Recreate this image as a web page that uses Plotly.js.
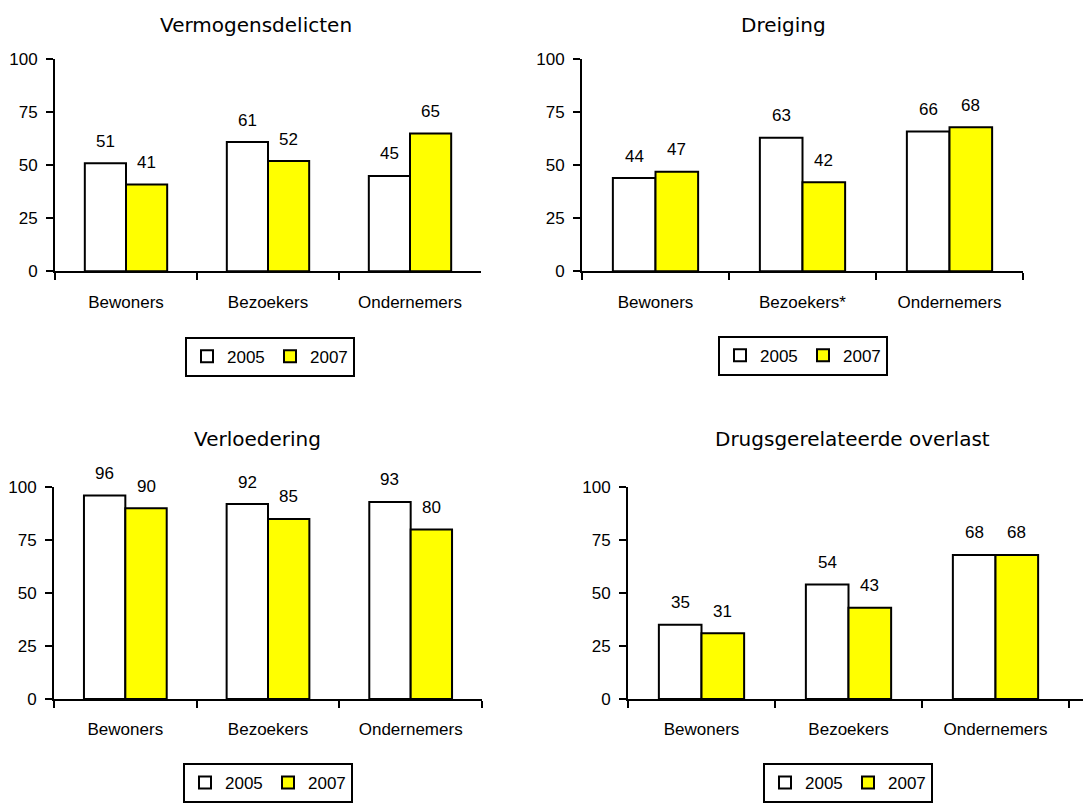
<!DOCTYPE html>
<html>
<head>
<meta charset="utf-8">
<script src="https://cdn.plot.ly/plotly-3.0.1.min.js"></script>
<style>html,body{margin:0;padding:0;background:#fff;}#chart{width:1083px;height:803px;}</style>
</head>
<body>
<div id="chart"></div>
<script>
// ---- data ----
const years = ["2005", "2007"];
const categoriesDefault = ["Bewoners", "Bezoekers", "Ondernemers"];
const categoriesDreiging = ["Bewoners", "Bezoekers*", "Ondernemers"];

const titleVermogen = "Vermogensdelicten";
const vermogen2005 = [51, 61, 45];
const vermogen2007 = [41, 52, 65];

const titleDreiging = "Dreiging";
const dreiging2005 = [44, 63, 66];
const dreiging2007 = [47, 42, 68];

const titleVerloedering = "Verloedering";
const verloedering2005 = [96, 92, 93];
const verloedering2007 = [90, 85, 80];

const titleDrugs = "Drugsgerelateerde overlast";
const drugs2005 = [35, 54, 68];
const drugs2007 = [31, 43, 68];

const yTicks = [0, 25, 50, 75, 100];

// ---- styling / layout ----
const W = 1083, H = 803;
const tickFont = {family: "Liberation Sans, Arial, sans-serif", size: 17, color: "#000"};
const titleFont = {family: "DejaVu Sans, Verdana, sans-serif", size: 20, color: "#000"};
const colors = ["#FFFFFF", "#FFFF00"];
const bargap = 0.42;
const barOffset = (1 - bargap) / 4;

const panels = [
  {title: titleVermogen, cats: categoriesDefault, s: [vermogen2005, vermogen2007],
   xd: [55, 481], yd: [60, 274], xr: [-0.5, 2.5], tx: 256, ty: 25, lx: 270, ly: 340},
  {title: titleDreiging, cats: categoriesDreiging, s: [dreiging2005, dreiging2007],
   xd: [582, 1023], yd: [60, 274], xr: [-0.5, 2.5], tx: 783, ty: 25, lx: 803, ly: 339},
  {title: titleVerloedering, cats: categoriesDefault, s: [verloedering2005, verloedering2007],
   xd: [54, 482], yd: [492, 706], xr: [-0.5, 2.5], tx: 257, ty: 443, lx: 268, ly: 771},
  {title: titleDrugs, cats: categoriesDefault, s: [drugs2005, drugs2007],
   xd: [628, 1083], yd: [492, 706], xr: [-0.5, -0.5 + 455 / 147], tx: 852, ty: 443, lx: 848, ly: 771}
];

const traces = [];
const layout = {
  width: W, height: H,
  margin: {l: 0, r: 0, t: 0, b: 0},
  paper_bgcolor: "#fff", plot_bgcolor: "#fff",
  barmode: "group", bargap: bargap, bargroupgap: 0,
  showlegend: true,
  annotations: [],
  hovermode: false
};

panels.forEach((p, i) => {
  const n = i + 1;
  const xa = "x" + (n === 1 ? "" : n);
  const ya = "y" + (n === 1 ? "" : n);
  const lg = "legend" + (n === 1 ? "" : n);
  years.forEach((yr, k) => {
    traces.push({
      type: "bar", name: yr, x: p.cats, y: p.s[k],
      xaxis: xa, yaxis: ya, legend: lg,
      marker: {color: colors[k], line: {color: "#000", width: 2}},
      hoverinfo: "skip", cliponaxis: false
    });
    p.s[k].forEach((v, j) => {
      layout.annotations.push({
        xref: xa, yref: ya, x: j + (k === 0 ? -barOffset : barOffset), y: v,
        text: String(v), showarrow: false, xanchor: "center", yanchor: "middle",
        yshift: 22, font: tickFont
      });
    });
  });
  layout["xaxis" + (n === 1 ? "" : n)] = {
    domain: [p.xd[0] / W, p.xd[1] / W], anchor: ya,
    type: "category", range: p.xr,
    showline: true, linecolor: "#000", linewidth: 2,
    ticks: "outside", tickson: "boundaries", ticklen: 7, tickwidth: 2, tickcolor: "#000",
    showgrid: false, zeroline: false, tickfont: tickFont, ticklabelstandoff: 14,
    fixedrange: true
  };
  layout["yaxis" + (n === 1 ? "" : n)] = {
    domain: [1 - p.yd[1] / H, 1 - p.yd[0] / H], anchor: xa,
    range: [0, 100], tickvals: yTicks, ticktext: yTicks.map(String),
    showline: true, linecolor: "#000", linewidth: 2,
    ticks: "outside", ticklen: 7, tickwidth: 2, tickcolor: "#000",
    showgrid: false, zeroline: false, tickfont: tickFont, ticklabelstandoff: 5,
    fixedrange: true
  };
  layout[lg] = {
    orientation: "h", x: p.lx / W, y: 1 - p.ly / H, xanchor: "center", yanchor: "top",
    xref: "paper", yref: "paper",
    bordercolor: "#000", borderwidth: 2, bgcolor: "#fff",
    entrywidth: 38, entrywidthmode: "pixels",
    font: {family: "Liberation Sans, Arial, sans-serif", size: 17, color: "#000"},
    traceorder: "normal", itemclick: false, itemdoubleclick: false
  };
  layout.annotations.push({
    xref: "paper", yref: "paper", x: p.tx / W, y: 1 - p.ty / H,
    text: p.title, showarrow: false, xanchor: "center", yanchor: "middle",
    font: titleFont
  });
});

Plotly.newPlot("chart", traces, layout, {displayModeBar: false, staticPlot: true});
</script>
</body>
</html>
